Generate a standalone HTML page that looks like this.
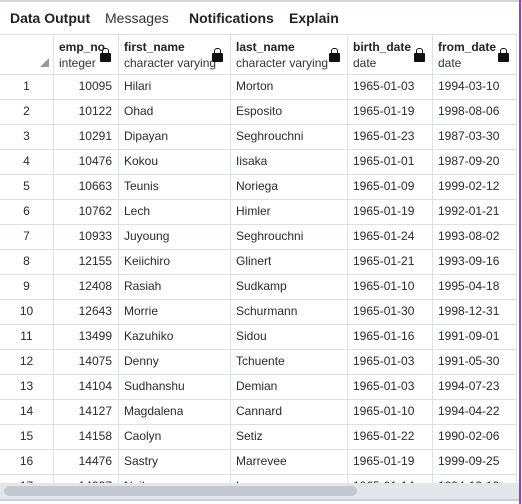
<!DOCTYPE html>
<html><head><meta charset="utf-8"><style>
body{margin:0;width:522px;height:504px;overflow:hidden;background:#fff;font-family:"Liberation Sans",sans-serif;position:relative}
.abs{position:absolute}
.tab{position:absolute;top:10px;font-size:14px;color:#222}
.cell{position:absolute;font-size:12px;color:#2a2a2a;line-height:25px;white-space:nowrap;overflow:hidden}
.vl{position:absolute;width:1px;background:#dde0e6}
.hl{position:absolute;height:1px;background:#dde0e6;left:0;width:517px}
.lock{position:absolute;width:11px;height:9px;background:#111;border-radius:1px}
.lock:before{content:"";position:absolute;left:2px;top:-5px;width:5px;height:5px;border:1px solid #111;border-bottom:none;border-radius:3px 3px 0 0}
.hn{position:absolute;top:40px;font-size:12px;font-weight:bold;color:#222}
.ht{position:absolute;top:56px;font-size:12px;color:#333}
</style></head><body>
<div class="abs" style="left:0;top:0;width:522px;height:2px;background:#d0d3d8"></div>
<div class="abs" style="left:519px;top:0;width:2px;height:504px;background:#9b3fb5"></div>
<div class="tab" style="left:10px;font-weight:bold">Data Output</div>
<div class="tab" style="left:105px;color:#333">Messages</div>
<div class="tab" style="left:189px;font-weight:bold">Notifications</div>
<div class="tab" style="left:289px;font-weight:bold">Explain</div>
<div id="grid"></div>
<div class="abs" style="left:0;top:483px;width:519px;height:16px;background:#e3e6ea"></div>
<div class="abs" style="left:4px;top:486px;width:353px;height:10px;background:#c4c9d1;border-radius:5px"></div>
<div class="abs" style="left:0;top:499px;width:519px;height:2px;background:#c9ccd2"></div>
<script>
const empNo=[10095,10122,10291,10476,10663,10762,10933,12155,12408,12643,13499,14075,14104,14127,14158,14476,14937];
const firstNames=["Hilari","Ohad","Dipayan","Kokou","Teunis","Lech","Juyoung","Keiichiro","Rasiah","Morrie","Kazuhiko","Denny","Sudhanshu","Magdalena","Caolyn","Sastry","Neil"];
const lastNames=["Morton","Esposito","Seghrouchni","Iisaka","Noriega","Himler","Seghrouchni","Glinert","Sudkamp","Schurmann","Sidou","Tchuente","Demian","Cannard","Setiz","Marrevee","Lemon"];
const birthDates=["1965-01-03","1965-01-19","1965-01-23","1965-01-01","1965-01-09","1965-01-19","1965-01-24","1965-01-21","1965-01-10","1965-01-30","1965-01-16","1965-01-03","1965-01-03","1965-01-10","1965-01-22","1965-01-19","1965-01-14"];
const fromDates=["1994-03-10","1998-08-06","1987-03-30","1987-09-20","1999-02-12","1992-01-21","1993-08-02","1993-09-16","1995-04-18","1998-12-31","1991-09-01","1991-05-30","1994-07-23","1994-04-22","1990-02-06","1999-09-25","1994-12-10"];
const g=document.getElementById('grid');
const cols=[0,53,118,230,347,432,516];
function add(cls,style,text,name){const d=document.createElement('div');d.className=cls;d.style.cssText=style;if(text!==undefined)d.textContent=text;


g.appendChild(d);return d;}
add('hl','top:34px','', 'header-top-line');
cols.slice(1).forEach((x,i)=>add('vl','left:'+x+'px;top:34px;height:449px','', 'column-divider'));
const heads=[["emp_no","integer"],["first_name","character varying"],["last_name","character varying"],["birth_date","date"],["from_date","date"]];
heads.forEach((h,i)=>{const x=cols[i+1]+6;
add('hn','left:'+x+'px',h[0],'header-'+h[0]);
add('ht','left:'+x+'px',h[1],'header-type-'+h[0]);
add('lock','left:'+(cols[i+2]-18)+'px;top:53px','', 'lock-icon');});
add('abs','left:40px;top:58px;width:0;height:0;border-left:9px solid transparent;border-bottom:9px solid #999','', 'select-all-corner');
add('hl','top:74px','', 'header-bottom-line');
for(let r=0;r<empNo.length;r++){const y=74+r*25;
add('hl','top:'+(y+25)+'px','', 'row-line');
add('cell','left:0;width:53px;text-align:center;top:'+y+'px',String(r+1),'row-number');
add('cell','left:53px;width:59px;text-align:right;top:'+y+'px',String(empNo[r]),'cell-emp-no');
add('cell','left:124px;top:'+y+'px',firstNames[r],'cell-first-name');
add('cell','left:236px;top:'+y+'px',lastNames[r],'cell-last-name');
add('cell','left:353px;top:'+y+'px',birthDates[r],'cell-birth-date');
add('cell','left:438px;top:'+y+'px',fromDates[r],'cell-from-date');}
</script>
</body></html>
